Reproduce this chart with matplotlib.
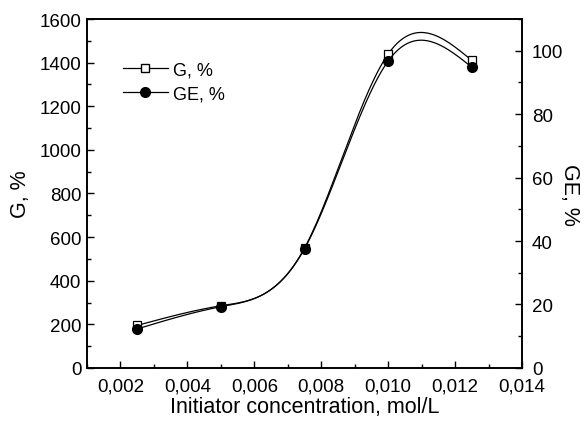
import numpy as np
import matplotlib
matplotlib.use("Agg")
import matplotlib.pyplot as plt
from matplotlib.ticker import MultipleLocator, FuncFormatter

plt.rcParams['font.family'] = ['Liberation Sans', 'DejaVu Sans']

# data
conc = [0.0025, 0.005, 0.0075, 0.010, 0.0125]
g_pct = [195, 285, 550, 1440, 1410]
ge_pct = [12.3, 19.3, 37.6, 96.8, 94.8]


def spline(x, y, n=300):
    # natural cubic spline, only for the smooth connecting line
    x = np.asarray(x, float)
    y = np.asarray(y, float)
    k = len(x)
    h = np.diff(x)
    A = np.zeros((k, k))
    b = np.zeros(k)
    A[0, 0] = A[-1, -1] = 1
    for i in range(1, k - 1):
        A[i, i - 1] = h[i - 1]
        A[i, i] = 2 * (h[i - 1] + h[i])
        A[i, i + 1] = h[i]
        b[i] = 6 * ((y[i + 1] - y[i]) / h[i] - (y[i] - y[i - 1]) / h[i - 1])
    m = np.linalg.solve(A, b)
    xs = np.linspace(x[0], x[-1], n)
    idx = np.clip(np.searchsorted(x, xs) - 1, 0, k - 2)
    x0, x1 = x[idx], x[idx + 1]
    hh = x1 - x0
    t0, t1 = x1 - xs, xs - x0
    ys = (m[idx] * t0 ** 3 + m[idx + 1] * t1 ** 3) / (6 * hh) \
        + (y[idx] / hh - m[idx] * hh / 6) * t0 \
        + (y[idx + 1] / hh - m[idx + 1] * hh / 6) * t1
    return xs, ys


fig = plt.figure(figsize=(5.84, 4.27), dpi=100)
ax = fig.add_axes([0.149, 0.136, 0.745, 0.817])
ax2 = ax.twinx()

xs, ys = spline(conc, g_pct)
ax.plot(xs, ys, color='black', lw=0.9)
ax.plot(conc, g_pct, ls='none', marker='s', ms=6, mfc='white', mec='black', mew=0.9)

xs, ys = spline(conc, ge_pct)
ax2.plot(xs, ys, color='black', lw=0.9)
ax2.plot(conc, ge_pct, ls='none', marker='o', ms=7, color='black')

ax.set_xlim(0.001, 0.014)
ax.set_ylim(0, 1600)
ax2.set_ylim(0, 110)

ax.xaxis.set_major_locator(MultipleLocator(0.002))
ax.xaxis.set_minor_locator(MultipleLocator(0.001))
ax.xaxis.set_major_formatter(FuncFormatter(lambda v, p: '{:.3f}'.format(v).replace('.', ',')))
ax.yaxis.set_major_locator(MultipleLocator(200))
ax.yaxis.set_minor_locator(MultipleLocator(100))
ax2.yaxis.set_major_locator(MultipleLocator(20))
ax2.yaxis.set_minor_locator(MultipleLocator(10))

ax.tick_params(which='both', direction='in', labelsize=13.5, width=1)
ax.tick_params(which='major', length=5)
ax.tick_params(which='minor', length=3)
ax.tick_params(axis='y', pad=4)
ax.tick_params(axis='x', pad=7)
ax2.tick_params(which='both', direction='in', labelsize=13.5, width=1, pad=7)
ax2.tick_params(which='major', length=5)
ax2.tick_params(which='minor', length=3)

for a in (ax, ax2):
    for s in a.spines.values():
        s.set_linewidth(1.2)

ax.set_xlabel('Initiator concentration, mol/L', fontsize=15.5, labelpad=1)
ax.set_ylabel('G, %', fontsize=15.5, labelpad=6)
ax2.set_ylabel('GE, %', fontsize=15.5, rotation=270, labelpad=12)

h1, = ax.plot([], [], color='black', lw=0.9, marker='s', ms=6, mfc='white', mec='black')
h2, = ax.plot([], [], color='black', lw=0.9, marker='o', ms=7)
ax.legend([h1, h2], ['G, %', 'GE, %'], loc='upper left', bbox_to_anchor=(0.065, 0.9),
          frameon=False, fontsize=13, handlelength=2.5, handletextpad=0.3,
          labelspacing=0.4, borderaxespad=0)

fig.savefig('out.png', dpi=100)
